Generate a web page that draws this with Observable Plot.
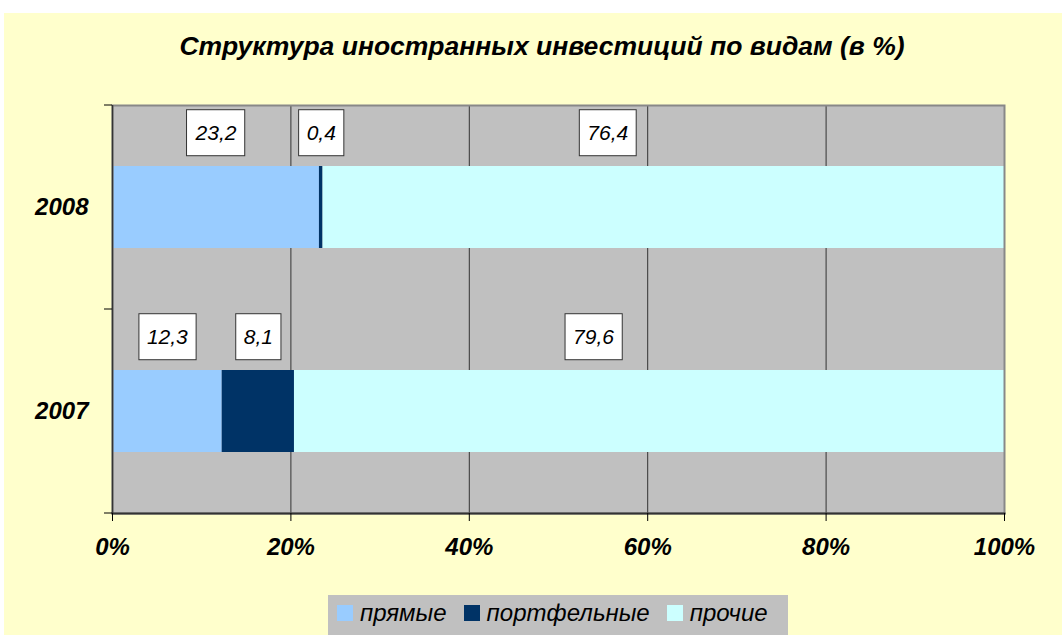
<!DOCTYPE html>
<html>
<head>
<meta charset="utf-8">
<script src="https://cdn.jsdelivr.net/npm/d3@7"></script>
<script src="https://cdn.jsdelivr.net/npm/@observablehq/plot@0.6"></script>
<style>
  body { margin: 0; background: #ffffff; }
  #page { position: relative; width: 1062px; height: 635px; overflow: hidden; font-family: "Liberation Sans", Arial, sans-serif; }
  #bg { position: absolute; left: 4px; top: 13px; right: 0; bottom: 0; background: #FFFFCC; }
  #title { position: absolute; left: 22px; right: 0; top: 31px; text-align: center; font: italic bold 26.5px "Liberation Sans", Arial, sans-serif; line-height: 30px; color: #000; }
  #chart { position: absolute; left: 0; top: 79px; }
  #legend { position: absolute; left: 328px; top: 595px; width: 460px; height: 45px; background: #C0C0C0; display: flex; align-items: center; padding-left: 9px; box-sizing: border-box; font: italic 24px "Liberation Sans", Arial, sans-serif; color: #000; }
  #legend .sw { width: 16px; height: 16px; margin-right: 7px; display: inline-block; }
  #legend .it { display: flex; align-items: center; margin-right: 17px; margin-top: -10px; }
</style>
</head>
<body>
<div id="page">
  <div id="bg"></div>
  <div id="title"></div>
  <div id="chart"></div>
  <div id="legend"></div>
</div>
<script>
// ---- data ----
const chartTitle = "Структура иностранных инвестиций по видам (в %)";
const years = ["2008", "2007"];
const series = ["прямые", "портфельные", "прочие"];
const seriesColors = ["#99CCFF", "#003366", "#CCFFFF"];
const values2008 = [23.2, 0.4, 76.4];
const values2007 = [12.3, 8.1, 79.6];
const xTicks = [0, 20, 40, 60, 80, 100];

const valuesByYear = { "2008": values2008, "2007": values2007 };
const data = years.flatMap(year => series.map((type, j) => ({ year, type, value: valuesByYear[year][j] })));
const fmt = v => v.toFixed(1).replace(".", ",");

document.getElementById("title").textContent = chartTitle;

// y ticks at category boundaries
const bandTicks = (index, scales, values, dimensions) => {
  const { marginTop, marginBottom, marginLeft, height } = dimensions;
  const n = years.length;
  const step = (height - marginTop - marginBottom) / n;
  const g = d3.create("svg:g");
  for (let i = 0; i <= n; i++) {
    const y = marginTop + i * step;
    g.append("line").attr("x1", marginLeft - 8).attr("x2", marginLeft).attr("y1", y).attr("y2", y)
      .attr("stroke", "#000").attr("stroke-width", 1);
  }
  return g.node();
};

const textStyle = { fontSize: 21, fontStyle: "italic", fill: "#000" };

const chart = Plot.plot({
  width: 1062,
  height: 500,
  marginLeft: 112,
  marginRight: 58,
  marginTop: 26,
  marginBottom: 66,
  style: { background: "transparent", fontFamily: "Liberation Sans, Arial, sans-serif", overflow: "visible", color: "#000" },
  x: { domain: [0, 100], label: null },
  y: { domain: years, paddingInner: 0.6, paddingOuter: 0.3, label: null },
  color: { domain: series, range: seriesColors },
  marks: [
    Plot.frame({ fill: "#C0C0C0" }),
    Plot.ruleX(xTicks.filter(v => v > 0 && v < 100), { stroke: "#333", strokeWidth: 1 }),
    Plot.barX(data, { x: "value", y: "year", fill: "type" }),
    Plot.frame({ stroke: "#888", strokeWidth: 2 }),
    Plot.ruleX([0], { stroke: "#333", strokeWidth: 1.5 }),
    Plot.frame({ anchor: "bottom", stroke: "#333", strokeWidth: 2 }),
    Plot.axisX({ ticks: xTicks, tickSize: 8, tickPadding: 16, label: null, tickFormat: d => d + "%", fontSize: 24, fontWeight: "bold", fontStyle: "italic", fill: "#000", stroke: "#000" }),
    Plot.axisY({ tickSize: 0, tickPadding: 24, label: null, fontSize: 24, fontWeight: "bold", fontStyle: "italic", fill: "#000" }),
    bandTicks,
    Plot.text(data, Plot.stackX({ x: "value", y: "year", text: d => d.type !== series[2] ? fmt(d.value) : null, dy: -74, ...textStyle })),
    Plot.text(data, Plot.stackX({ x: "value", y: "year", text: d => d.type === series[2] ? fmt(d.value) : null, dy: -74, dx: -56, ...textStyle }))
  ]
});

document.getElementById("chart").appendChild(chart);

// white boxes behind the data labels
chart.querySelectorAll('g[aria-label="text"] text').forEach(t => {
  const bb = t.getBBox();
  const cy = bb.y + bb.height / 2;
  const r = document.createElementNS("http://www.w3.org/2000/svg", "rect");
  r.setAttribute("x", bb.x - 8);
  r.setAttribute("y", cy - 23);
  r.setAttribute("width", bb.width + 16);
  r.setAttribute("height", 46);
  r.setAttribute("fill", "#fff");
  r.setAttribute("stroke", "#333");
  r.setAttribute("stroke-width", 1);
  if (t.getAttribute("transform")) r.setAttribute("transform", t.getAttribute("transform"));
  t.parentNode.insertBefore(r, t);
});

// legend
const legend = d3.select("#legend");
series.forEach((s, i) => {
  const it = legend.append("div").attr("class", "it");
  it.append("span").attr("class", "sw").style("background", seriesColors[i]);
  it.append("span").text(s);
});
</script>
</body>
</html>
